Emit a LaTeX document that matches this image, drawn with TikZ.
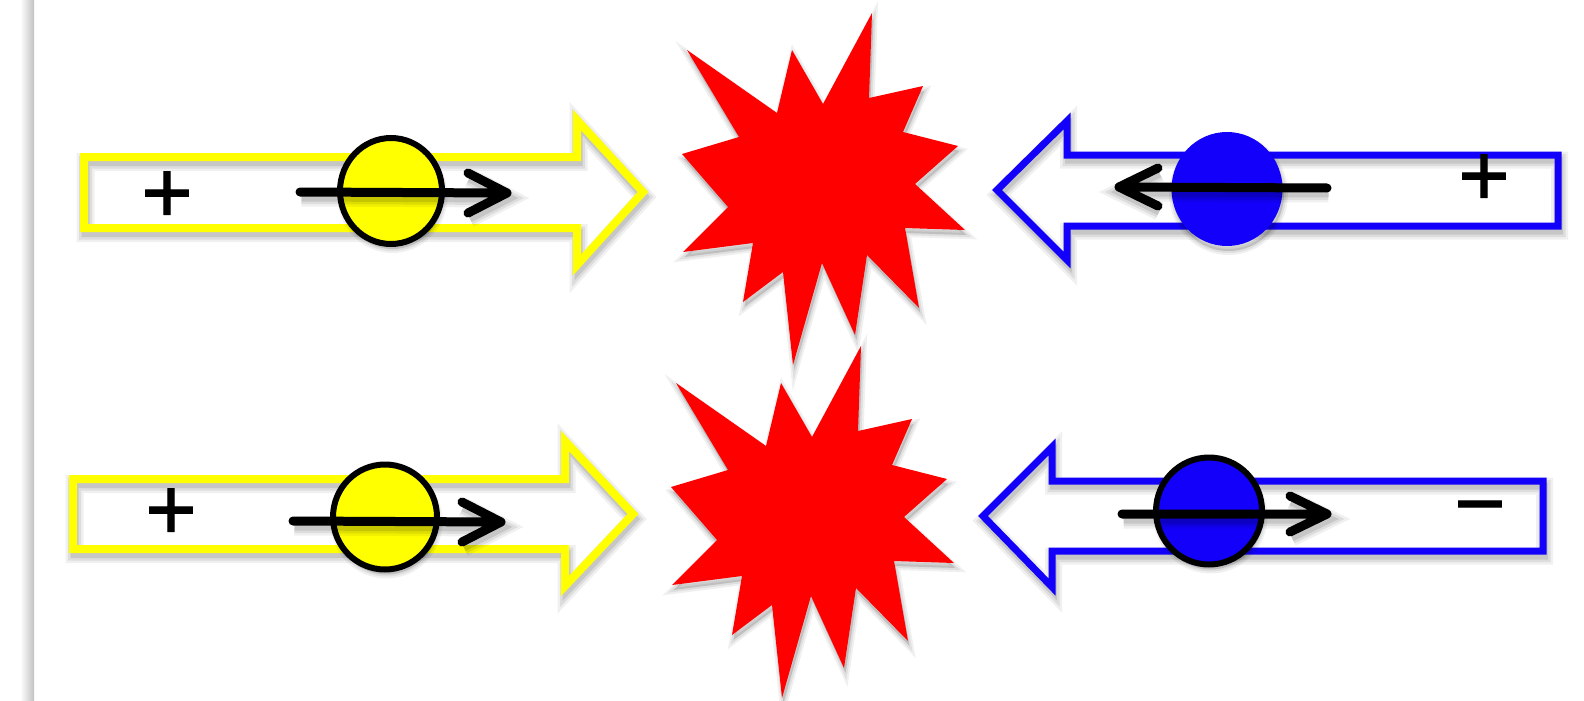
\documentclass[tikz,border=0pt]{standalone}
\usepackage{fontspec}
\setmainfont{Liberation Sans}
\newfontfamily\chargefont[FakeBold=1.2]{Liberation Sans}
\definecolor{beamyellow}{RGB}{255,255,0}
\definecolor{beamblue}{RGB}{18,0,250}
\definecolor{burstred}{RGB}{255,0,0}
\tikzset{
  x=0.5pt, y=-0.5pt,
  % soft grey shadow cast slightly downwards
  dropshift/.style={transform canvas={shift={(1.5,5)}}},
  soft outline/.style={
    preaction={draw=black, draw opacity=0.06, line width=#1+5pt, dropshift},
    preaction={draw=black, draw opacity=0.08, line width=#1+2.5pt, dropshift},
    preaction={draw=black, draw opacity=0.10, line width=#1, dropshift}},
  soft body/.style={
    preaction={fill=black, fill opacity=0.14, draw=black, draw opacity=0.06, line width=4pt, dropshift},
    preaction={draw=black, draw opacity=0.07, line width=2pt, dropshift}},
  yellowbeam/.style={draw=beamyellow, line width=4pt, line join=miter, soft outline=4pt},
  bluebeam/.style={draw=beamblue, line width=3.5pt, line join=miter, soft outline=3.5pt},
  spin/.style={draw=black, line width=4.5pt, line cap=round, line join=round, soft outline=4.5pt},
  yellowball/.style={draw=black, line width=3pt, fill=beamyellow, soft body},
  blueball/.style={draw=black, line width=3pt, fill=beamblue, soft body},
  bareblueball/.style={fill=beamblue, soft body},
  burst/.style={fill=burstred, soft body},
  charge/.style={inner sep=0pt, font=\chargefont\fontsize{44}{44}\selectfont},
}
\begin{document}
\begin{tikzpicture}
  \path[fill=white, use as bounding box] (0,0) rectangle (1584,701);
  % page edge on the left
  \shade[left color=white, right color=black!24] (20,0) rectangle (34,701);

  % hollow beam arrows
  \draw[yellowbeam] (84,157) -- (577,157) -- (577,120) -- (643,192) -- (577,265) -- (577,228) -- (84,228) -- cycle;
  \draw[yellowbeam] (73,479) -- (565,479) -- (565,441) -- (633,514) -- (565,586) -- (565,549) -- (73,549) -- cycle;
  \draw[bluebeam] (1558,155) -- (1067,155) -- (1067,121) -- (997,190) -- (1067,260) -- (1067,226) -- (1558,226) -- cycle;
  \draw[bluebeam] (1543,481) -- (1052,481) -- (1052,447) -- (983,516) -- (1052,587) -- (1052,551) -- (1543,551) -- cycle;

  % particles
  \coordinate (pTL) at (391,191);
  \coordinate (pBL) at (385,517);
  \coordinate (pTR) at (1227,189);
  \coordinate (pBR) at (1209,511);
  \path[yellowball] (pTL) ellipse [x radius=51, y radius=53];
  \path[yellowball] (pBL) ellipse [x radius=52, y radius=52.5];
  \path[bareblueball] (pTR) ellipse [x radius=55.5, y radius=57];
  \path[blueball] (pBR) ellipse [x radius=53, y radius=53.5];

  % spin arrows
  \draw[spin] (300,192) -- (505,193) (468,173) -- (507,193) -- (468,213);
  \draw[spin] (293,521) -- (499,522) (462,502) -- (501,522) -- (462,542);
  \draw[spin] (1327,188) -- (1121,187) (1158,168) -- (1119,187) -- (1158,206);
  \draw[spin] (1122,514) -- (1325,514) (1290,496) -- (1327,514) -- (1290,532);

  % charges
  \node[charge] (qTL) at (167,197) {+};
  \node[charge] (qBL) at (171,514) {+};
  \node[charge] (qTR) at (1484,180) {+};
  \node[charge] (qBR) at (1480,517) {−};

  % collision bursts
  \foreach \dx/\dy in {0/0, -11/333}
    \path[burst, shift={(\dx,\dy)}]
      (872,13) -- (869,98) -- (923,86) -- (903,132) -- (958,146) -- (915,184)
      -- (965,230) -- (905,228) -- (919,308) -- (867,255) -- (855,335) -- (822,263)
      -- (793,365) -- (783,272) -- (743,302) -- (753,243) -- (683,252) -- (728,207)
      -- (682,154) -- (739,137) -- (687,50) -- (777,113) -- (792,50) -- (823,104) -- cycle;
\end{tikzpicture}
\end{document}
